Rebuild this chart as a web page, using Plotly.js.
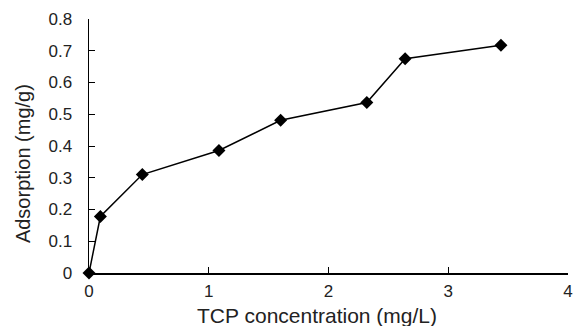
<!DOCTYPE html>
<html>
<head>
<meta charset="utf-8">
<script src="https://cdn.plot.ly/plotly-3.0.1.min.js"></script>
<style>html,body{margin:0;padding:0;background:#fff;}#chart{width:574px;height:326px;}</style>
</head>
<body>
<div id="chart"></div>
<script>
var concentration = [0, 0.095, 0.445, 1.085, 1.60, 2.32, 2.64, 3.44];
var adsorption = [0, 0.178, 0.31, 0.386, 0.481, 0.537, 0.675, 0.717];
var xTicks = [0, 1, 2, 3, 4];
var yTicks = [0, 0.1, 0.2, 0.3, 0.4, 0.5, 0.6, 0.7, 0.8];
var yTickLabels = ['0', '0.1', '0.2', '0.3', '0.4', '0.5', '0.6', '0.7', '0.8'];
var xTitle = 'TCP concentration (mg/L)';
var yTitle = 'Adsorption (mg/g)';

var trace = {
  x: concentration,
  y: adsorption,
  type: 'scatter',
  mode: 'lines+markers',
  line: {color: '#000', width: 1.5},
  marker: {symbol: 'diamond', size: 10, color: '#000'},
  cliponaxis: false,
  hoverinfo: 'x+y'
};

var layout = {
  width: 574,
  height: 326,
  margin: {l: 88.5, r: 6, t: 19.3, b: 52.7},
  paper_bgcolor: '#fff',
  plot_bgcolor: '#fff',
  showlegend: false,
  font: {family: 'Liberation Sans, Arial, sans-serif', color: '#222'},
  xaxis: {
    range: [0, 4],
    tickvals: xTicks,
    ticktext: xTicks.map(String),
    ticks: 'inside',
    ticklen: 6,
    tickwidth: 1,
    tickcolor: '#000',
    showline: true,
    linecolor: '#000',
    linewidth: 1.5,
    showgrid: false,
    zeroline: false,
    tickfont: {size: 17, color: '#222'},
    ticklabelstandoff: 2,
    ticklabeloverflow: 'allow',
    fixedrange: true
  },
  yaxis: {
    range: [0, 0.8],
    tickvals: yTicks,
    ticktext: yTickLabels,
    ticks: 'inside',
    ticklen: 6,
    tickwidth: 1,
    tickcolor: '#000',
    showline: true,
    linecolor: '#000',
    linewidth: 1.5,
    showgrid: false,
    zeroline: false,
    tickfont: {size: 17, color: '#222'},
    ticklabelstandoff: 12,
    fixedrange: true
  },
  annotations: [
    {text: xTitle, xref: 'x', yref: 'paper', x: 1.9, y: 0, xanchor: 'center', yanchor: 'middle',
     yshift: -42, showarrow: false, font: {size: 21, color: '#222'}},
    {text: yTitle, xref: 'paper', yref: 'y', x: 0, y: 0.343, xanchor: 'center', yanchor: 'middle',
     xshift: -66, textangle: -90, showarrow: false, font: {size: 20, color: '#222'}}
  ]
};

Plotly.newPlot('chart', [trace], layout, {displayModeBar: false, staticPlot: true});
</script>
</body>
</html>
